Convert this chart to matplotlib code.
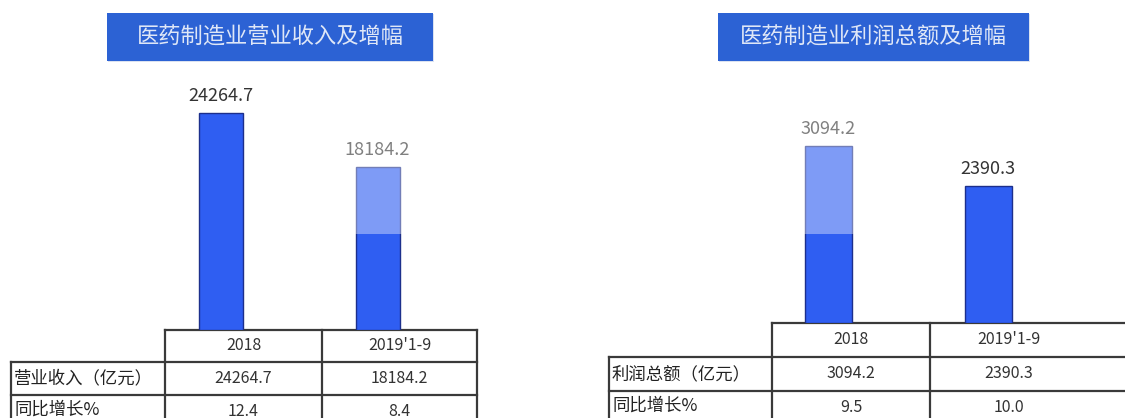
import matplotlib
matplotlib.use("Agg")
import matplotlib.pyplot as plt
from matplotlib.patches import Rectangle

plt.rcParams['font.family'] = ['Noto Sans CJK SC', 'DejaVu Sans']

# ---------------- data ----------------
categories = ["2018", "2019'1-9"]
revenue = [24264.7, 18184.2]
revenue_growth = [12.4, 8.4]
profit = [3094.2, 2390.3]
profit_growth = [9.5, 10.0]

title_left = "医药制造业营业收入及增幅"
title_right = "医药制造业利润总额及增幅"
row_labels_left = ["营业收入（亿元）", "同比增长%"]
row_labels_right = ["利润总额（亿元）", "同比增长%"]

W, H = 1125, 418
fig = plt.figure(figsize=(W / 100, H / 100), dpi=100)
fig.patch.set_facecolor("white")

BAR = "#2f5ef2"
EDGE = "#1c2f8c"
BOX = "#2c62d4"
LINE = "#3a3a3a"
TXT = "#333333"


def px_axes(x0, y_top, x1, y_bot, z):
    ax = fig.add_axes([x0 / W, 1 - y_bot / H, (x1 - x0) / W, (y_bot - y_top) / H])
    ax.set_zorder(z)
    ax.patch.set_alpha(0)
    ax.axis("off")
    return ax


# background axes in pixel coordinates
bg = fig.add_axes([0, 0, 1, 1])
bg.set_xlim(0, W)
bg.set_ylim(H, 0)
bg.axis("off")
bg.set_zorder(0)


def title_box(x0, x1, text):
    bg.add_patch(Rectangle((x0 + 1, 14), x1 - x0, 48, facecolor="#dbe2f0", edgecolor="none", zorder=1))
    bg.add_patch(Rectangle((x0, 13), x1 - x0, 48, facecolor=BOX, edgecolor="none", zorder=2))
    bg.text((x0 + x1) / 2, 37, text, ha="center", va="center", fontsize=16,
            color="#dfe7f7", zorder=3)


title_box(107, 433, title_left)
title_box(718, 1029, title_right)


def draw_table(xl, xc0, xc1, xc2, y0, y1, y2, y3, labels, vals, growth, right_open=False):
    lw = 1.6
    xe = W + 5 if right_open else xc2
    # horizontal lines
    bg.plot([xc0, xe], [y0, y0], color=LINE, lw=lw, zorder=4)
    bg.plot([xl, xe], [y1, y1], color=LINE, lw=lw, zorder=4)
    bg.plot([xl, xe], [y2, y2], color=LINE, lw=lw, zorder=4)
    # vertical lines
    bg.plot([xl, xl], [y1, H + 5], color=LINE, lw=lw, zorder=4)
    bg.plot([xc0, xc0], [y0, H + 5], color=LINE, lw=lw, zorder=4)
    bg.plot([xc1, xc1], [y0, H + 5], color=LINE, lw=lw, zorder=4)
    if not right_open:
        bg.plot([xc2, xc2], [y0, H + 5], color=LINE, lw=lw, zorder=4)
    cx = [(xc0 + xc1) / 2, (xc1 + xc2) / 2]
    for i, c in enumerate(categories):
        bg.text(cx[i], (y0 + y1) / 2, c, ha="center", va="center", fontsize=11.5, color=TXT)
        bg.text(cx[i], (y1 + y2) / 2, f"{vals[i]:.1f}", ha="center", va="center", fontsize=11.5, color=TXT)
        bg.text(cx[i], (y2 + y3) / 2, f"{growth[i]:.1f}", ha="center", va="center", fontsize=11.5, color=TXT)
    bg.text(xl + 3, (y1 + y2) / 2, labels[0], ha="left", va="center", fontsize=12.5, color="#222222")
    bg.text(xl + 3, (y2 + y3) / 2 - 2, labels[1], ha="left", va="center", fontsize=12.5, color="#222222")


draw_table(11, 165, 322, 477, 330, 362, 395, 428, row_labels_left, revenue, revenue_growth)
draw_table(609, 772, 930, 1088, 323, 357, 391, 425, row_labels_right, profit, profit_growth,
           right_open=True)


def bar_panel(x0, x1, y_top, y_zero, c0, spacing, width_px, px_per_unit, values):
    ax = px_axes(x0, y_top, x1, y_zero, 1)
    left = -(c0 - x0) / spacing
    right = (x1 - x0 - (c0 - x0)) / spacing
    ax.set_xlim(left, right)
    ax.set_ylim(0, (y_zero - y_top) / px_per_unit)
    xs = list(range(len(values)))
    ax.bar(xs, values, width=width_px / spacing, color=BAR, edgecolor=EDGE, linewidth=1.0)
    for x, v in zip(xs, values):
        ax.annotate(f"{v:.1f}", (x, v), xytext=(0, 6), textcoords="offset points",
                    ha="center", va="bottom", fontsize=13, color=TXT)
    return ax


bar_panel(165, 477, 60, 330, 221, 156.5, 44, 217 / revenue[0], revenue)
bar_panel(772, 1125, 60, 323, 828.5, 159.5, 47, 177 / profit[0], profit)

# watermark lightening layer over the bars
ov = fig.add_axes([0, 0, 1, 1])
ov.set_xlim(0, W)
ov.set_ylim(H, 0)
ov.axis("off")
ov.patch.set_alpha(0)
ov.set_zorder(3)
ov.add_patch(Rectangle((265, 106), 692, 128, facecolor="white", alpha=0.38, edgecolor="none"))

fig.savefig("out.png", dpi=100, facecolor="white")
